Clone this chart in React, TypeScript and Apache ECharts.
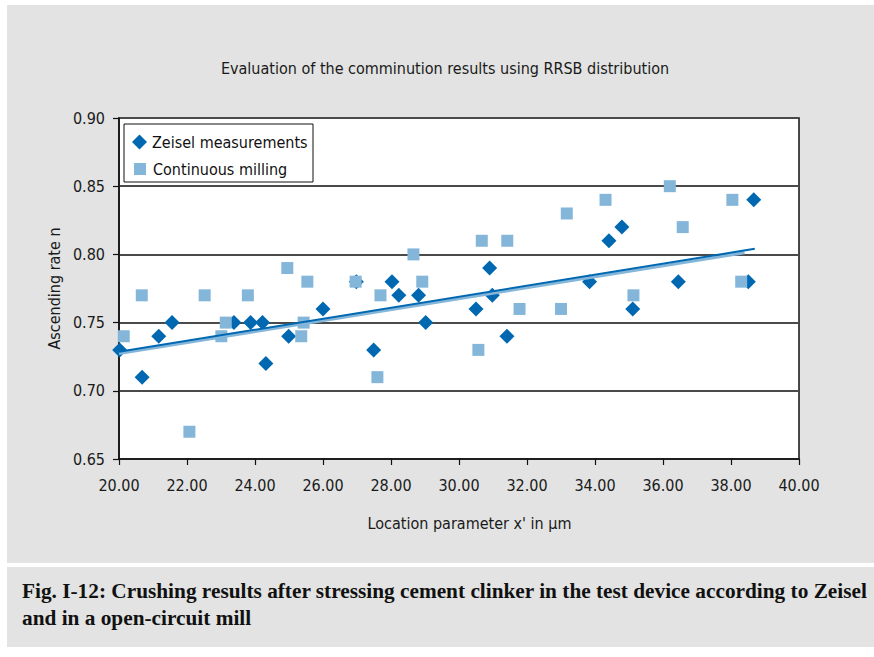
import React, { useEffect, useRef } from "react";
import * as echarts from "echarts";

const titleText = "Evaluation of the comminution results using RRSB distribution";
const xAxisName = "Location parameter x' in µm";
const yAxisName = "Ascending rate n";
const captionLines = [
  "Fig. I-12: Crushing results after stressing cement clinker in the test device according to Zeisel",
  "and in a open-circuit mill",
];
const seriesNames = ["Zeisel measurements", "Continuous milling"];

const zeiselX = [20.02, 20.68, 21.17, 21.56, 23.38, 23.87, 24.22, 24.32, 24.99, 26.0, 26.98, 27.49, 28.03, 28.23, 28.81, 29.02, 30.5, 30.9, 30.98, 31.41, 33.84, 34.41, 34.79, 35.11, 36.45, 38.51, 38.67];
const zeiselY = [0.73, 0.71, 0.74, 0.75, 0.75, 0.75, 0.75, 0.72, 0.74, 0.76, 0.78, 0.73, 0.78, 0.77, 0.77, 0.75, 0.76, 0.79, 0.77, 0.74, 0.78, 0.81, 0.82, 0.76, 0.78, 0.78, 0.84];

const contX = [20.14, 20.67, 22.07, 22.52, 23.01, 23.14, 23.79, 24.95, 25.36, 25.43, 25.54, 26.96, 27.6, 27.69, 28.66, 28.92, 30.57, 30.67, 31.42, 31.78, 33.0, 33.17, 34.31, 35.13, 36.2, 36.58, 38.04, 38.3];
const contY = [0.74, 0.77, 0.67, 0.77, 0.74, 0.75, 0.77, 0.79, 0.74, 0.75, 0.78, 0.78, 0.71, 0.77, 0.8, 0.78, 0.73, 0.81, 0.81, 0.76, 0.76, 0.83, 0.84, 0.77, 0.85, 0.82, 0.84, 0.78];

const zeiselTrendX = [20.0, 38.7];
const zeiselTrendY = [0.7286, 0.8041];
const contTrendX = [20.0, 38.4];
const contTrendY = [0.7274, 0.8012];

const DARK = "#0068B1";
const LIGHT = "#84B6DA";
const BG = "#E2E3E2";
const NARROW = "'Liberation Sans Narrow', 'DejaVu Sans Condensed', 'Arial Narrow', sans-serif";
const SERIF = "'Liberation Serif', 'Times New Roman', serif";

const pairs = (xs: number[], ys: number[]) => xs.map((x, i) => [x, ys[i]]);

export default function App() {
  const ref = useRef<HTMLDivElement>(null);
  useEffect(() => {
    document.body.style.margin = "0";
    const chart = echarts.init(ref.current!, undefined, { renderer: "svg" });
    chart.setOption({
      animation: false,
      backgroundColor: "#ffffff",
      graphic: [
        { type: "rect", z: -10, silent: true, shape: { x: 7, y: 5, width: 867, height: 558 }, style: { fill: BG } },
        { type: "rect", z: -10, silent: true, shape: { x: 7, y: 567, width: 867, height: 80 }, style: { fill: BG } },
        {
          type: "text", x: 445, y: 68, silent: true,
          style: { text: titleText, align: "center", verticalAlign: "middle", font: `16px ${NARROW}`, fill: "#1a1a1a" },
        },
        {
          type: "rect", z: 1, silent: true,
          shape: { x: 124, y: 124, width: 189, height: 58 },
          style: { fill: "#ffffff", stroke: "#111", lineWidth: 1 },
        },
        {
          type: "text", x: 22, y: 591, silent: true,
          style: { text: captionLines[0], align: "left", verticalAlign: "middle", font: `bold 21.3px ${SERIF}`, fill: "#111" },
        },
        {
          type: "text", x: 22, y: 618, silent: true,
          style: { text: captionLines[1], align: "left", verticalAlign: "middle", font: `bold 21.3px ${SERIF}`, fill: "#111" },
        },
      ],
      legend: [
        {
          data: [{ name: seriesNames[0], icon: "diamond" }],
          left: 132, top: 134, padding: 0, orient: "vertical", z: 5,
          itemWidth: 15, itemHeight: 15,
          textStyle: { fontFamily: NARROW, fontSize: 16, color: "#111" },
        },
        {
          data: [{ name: seriesNames[1], icon: "rect" }],
          left: 134, top: 161, padding: 0, orient: "vertical", z: 5,
          itemWidth: 12, itemHeight: 12,
          textStyle: { fontFamily: NARROW, fontSize: 16, color: "#111", padding: [0, 0, 0, 2] },
        },
      ],
      grid: {
        left: 119, right: 75, top: 118, bottom: 198,
        show: true, backgroundColor: "#ffffff", borderColor: "#111", borderWidth: 1.5,
      },
      xAxis: {
        type: "value", min: 20, max: 40, interval: 2,
        name: xAxisName, nameLocation: "middle", nameGap: 56,
        nameTextStyle: { fontFamily: NARROW, fontSize: 16, color: "#1a1a1a", padding: [0, 0, 0, 21] },
        axisLine: { show: true, lineStyle: { color: "#111", width: 1.5 } },
        axisTick: { show: true, length: 6, lineStyle: { color: "#111", width: 1.2 } },
        axisLabel: { formatter: (v: number) => v.toFixed(2), fontFamily: NARROW, fontSize: 16, color: "#1a1a1a", margin: 18 },
        splitLine: { show: false },
      },
      yAxis: {
        type: "value", min: 0.65, max: 0.9, interval: 0.05,
        name: yAxisName, nameLocation: "middle", nameRotate: 90, nameGap: 57,
        nameTextStyle: { fontFamily: NARROW, fontSize: 16, color: "#1a1a1a" },
        axisLine: { show: true, lineStyle: { color: "#111", width: 1.5 } },
        axisTick: { show: true, length: 6, lineStyle: { color: "#111", width: 1.2 } },
        axisLabel: { formatter: (v: number) => v.toFixed(2), fontFamily: NARROW, fontSize: 16, color: "#1a1a1a", margin: 14 },
        splitLine: { show: true, lineStyle: { color: "#4a4a4a", width: 2 } },
      },
      series: [
        {
          name: seriesNames[0], type: "scatter", symbol: "diamond", symbolSize: 15, z: 2,
          itemStyle: { color: DARK, opacity: 1 },
          data: pairs(zeiselX, zeiselY),
        },
        {
          name: seriesNames[1], type: "scatter", symbol: "rect", symbolSize: 12, z: 3,
          itemStyle: { color: LIGHT, opacity: 1 },
          data: pairs(contX, contY),
        },
        {
          name: "Continuous trend", type: "line", symbol: "none", z: 4, silent: true,
          lineStyle: { color: LIGHT, width: 3 },
          data: pairs(contTrendX, contTrendY),
        },
        {
          name: "Zeisel trend", type: "line", symbol: "none", z: 5, silent: true,
          lineStyle: { color: DARK, width: 2 },
          data: pairs(zeiselTrendX, zeiselTrendY),
        },
      ],
    });
    return () => chart.dispose();
  }, []);
  return <div ref={ref} style={{ width: 874, height: 657 }} />;
}
